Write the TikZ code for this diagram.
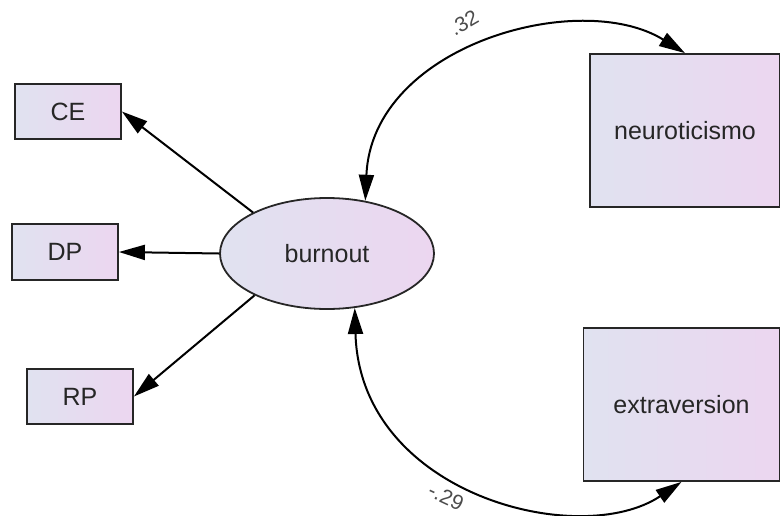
\documentclass[tikz,border=0pt]{standalone}
\usepackage{fontspec}
\setmainfont{Liberation Sans}
\usetikzlibrary{shapes.geometric,arrows.meta}
\definecolor{fillL}{RGB}{224,226,240}
\definecolor{fillR}{RGB}{236,214,240}
\tikzset{
  obsbox/.style={draw=black!85, line width=1.8pt, left color=fillL, right color=fillR, inner sep=0pt, font=\fontsize{25}{28}\selectfont, text=black!85},
  latent/.style={ellipse, draw=black!85, line width=1.8pt, left color=fillL, right color=fillR, inner sep=0pt, font=\fontsize{25}{28}\selectfont, text=black!85},
  conn/.style={line width=2pt, -{Triangle[length=26pt,width=15pt]}},
  conn2/.style={line width=2pt, {Triangle[length=26pt,width=15pt]}-{Triangle[length=26pt,width=15pt]}},
  coef/.style={font=\fontsize{21}{23}\selectfont, text=black!70}
}
\begin{document}
\begin{tikzpicture}[x=1pt,y=-1pt]
\useasboundingbox (0,0) rectangle (780,515);
\node[obsbox, minimum width=106pt, minimum height=55pt] (ce) at (68,111.5) {CE};
\node[obsbox, minimum width=106pt, minimum height=56pt] (dp) at (65,252) {DP};
\node[obsbox, minimum width=106pt, minimum height=55pt] (rp) at (80,396.5) {RP};
\node[latent, minimum width=214pt, minimum height=111pt] (burn) at (327,253.5) {burnout};
\node[obsbox, minimum width=190pt, minimum height=153pt] (neuro) at (685,130.5) {neuroticismo};
\node[obsbox, minimum width=196pt, minimum height=153pt] (extra) at (681.5,404.5) {extraversion};
\draw[conn] (burn.151) -- (ce.east);
\draw[conn] (burn.west) -- (dp.east);
\draw[conn] (burn.210) -- (rp.east);
\draw[conn2] (burn.54) .. controls (372,45) and (580,-12) .. (neuro.north);
\draw[conn2] (burn.-63) .. controls (360,495) and (580,550) .. (extra.south);
\node[coef, rotate=30] (c1) at (464,23) {.32};
\node[coef, rotate=-25] (c2) at (446,497) {-.29};
\end{tikzpicture}
\end{document}
